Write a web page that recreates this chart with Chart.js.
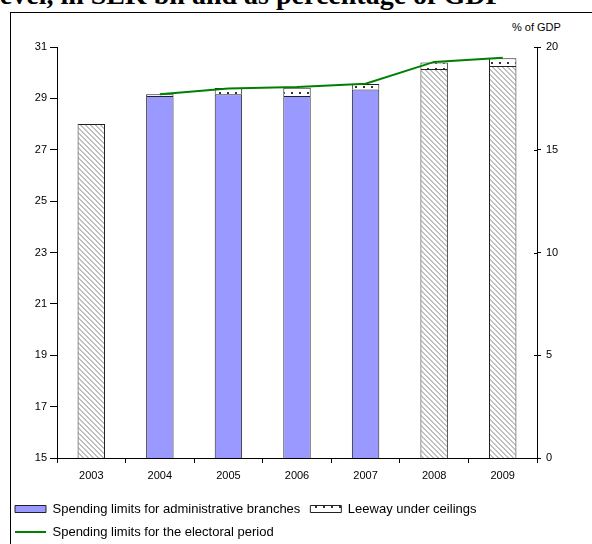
<!DOCTYPE html>
<html><head><meta charset="utf-8">
<script src="https://cdn.jsdelivr.net/npm/chart.js@4"></script>
<style>
html,body{margin:0;padding:0;background:#fff;overflow:hidden;width:592px;height:544px;}
#wrap{position:relative;width:592px;height:544px;overflow:hidden;}
#frame{position:absolute;left:10px;top:12px;width:600px;height:600px;border-left:1px solid #000;border-top:1px solid #000;}
#title{position:absolute;left:-8px;top:-19.5px;font:bold 28px/28px "Liberation Serif";white-space:nowrap;color:#000;}
#gdp{position:absolute;left:512px;top:20px;font:11px/14px "Liberation Sans";color:#000;}
canvas{position:absolute;left:0;top:0;}
</style></head><body>
<div id="wrap">
<div id="title">level, in SEK bn and as percentage of GDP</div>
<div id="frame"></div>
<div id="gdp">% of GDP</div>
<canvas id="c" width="592" height="560"></canvas>
</div>
<script>
const years = ['2003','2004','2005','2006','2007','2008','2009'];
const adminLimits = [28.0, 29.09, 29.16, 29.09, 29.35, 30.14, 30.26];
const leeway = [null, 0.07, 0.24, 0.32, 0.21, 0.26, 0.30];
const electoralLimits = [null, 29.16, 29.38, 29.44, 29.57, 30.42, 30.58];
const isForecast = [true, false, false, false, false, true, true];
const leftAxisTicks = [15, 17, 19, 21, 23, 25, 27, 29, 31];
const rightAxisTicks = [0, 5, 10, 15, 20];
const seriesNames = ['Spending limits for administrative branches', 'Leeway under ceilings', 'Spending limits for the electoral period'];

function hatchPattern(){
  const n = 5, c = document.createElement('canvas'); c.width = n; c.height = n;
  const g = c.getContext('2d'); g.fillStyle = '#fff'; g.fillRect(0,0,n,n);
  g.fillStyle = '#c0c0c0';
  for (let y=0;y<n;y++) for (let x=0;x<n;x++){ const d=((x-y)%n+n)%n; if (d<2) g.fillRect(x,y,1,1); }
  return g.createPattern(c,'repeat');
}
function dotPattern(){
  const c = document.createElement('canvas'); c.width = 8; c.height = 6;
  const g = c.getContext('2d'); g.fillStyle = '#fff'; g.fillRect(0,0,8,6);
  g.fillStyle = '#333'; g.fillRect(3,2,2,2);
  return g.createPattern(c,'repeat');
}
const BLUE = '#9999ff';
const hatch = hatchPattern();
const dots = dotPattern();

const innerTicks = {
  id:'innerTicks',
  afterDraw(chart){
    const s = chart.scales.y1, ctx = chart.ctx;
    ctx.save(); ctx.strokeStyle='#000'; ctx.lineWidth=1;
    s.ticks.forEach(t=>{
      const y = Math.round(s.getPixelForValue(t.value))+0.5;
      ctx.beginPath(); ctx.moveTo(s.left-3, y); ctx.lineTo(s.left, y); ctx.stroke();
    });
    ctx.restore();
  }
};

new Chart(document.getElementById('c'), {
  data: {
    labels: years,
    datasets: [
      { type:'bar', label: seriesNames[0], data: adminLimits, stack:'s', yAxisID:'y', order:1,
        backgroundColor: isForecast.map(f => f ? hatch : BLUE), borderColor:'#222', borderWidth:1 },
      { type:'bar', label: seriesNames[1], data: leeway, stack:'s', yAxisID:'y', order:1,
        backgroundColor: dots, borderColor:'#222', borderWidth:1 },
      { type:'line', label: seriesNames[2], data: electoralLimits, yAxisID:'y', order:0,
        borderColor:'#008000', backgroundColor:'#008000', borderWidth:2, pointRadius:0, tension:0, spanGaps:false }
    ]
  },
  options: {
    responsive:false, animation:false,
    layout:{ padding:{ left:5, right:0, top:47, bottom:11.5 } },
    datasets:{ bar:{ categoryPercentage:1.0, barPercentage:0.4 } },
    scales: {
      x: {
        stacked:true,
        grid:{ offset:true, drawOnChartArea:false, drawTicks:true, tickLength:5, color:'#000' },
        border:{ display:true, color:'#000', width:1 },
        ticks:{ color:'#000', font:{ family:'Liberation Sans', size:11 }, padding:6, maxRotation:0 },
        afterFit(s){ s.height = 34.5; }
      },
      y: {
        stacked:true, position:'left',
        min: leftAxisTicks[0], max: leftAxisTicks[leftAxisTicks.length-1],
        afterBuildTicks(s){ s.ticks = leftAxisTicks.map(v=>({value:v})); },
        grid:{ drawOnChartArea:false, drawTicks:true, tickLength:7, color:'#000' },
        border:{ display:true, color:'#000', width:1 },
        ticks:{ color:'#000', font:{ family:'Liberation Sans', size:11 }, padding:3 },
        afterFit(s){ s.width = 52; }
      },
      y1: {
        position:'right',
        min: rightAxisTicks[0], max: rightAxisTicks[rightAxisTicks.length-1],
        afterBuildTicks(s){ s.ticks = rightAxisTicks.map(v=>({value:v})); },
        grid:{ drawOnChartArea:false, drawTicks:true, tickLength:4, color:'#000' },
        border:{ display:true, color:'#000', width:1 },
        ticks:{ color:'#000', font:{ family:'Liberation Sans', size:11 }, padding:5 },
        afterFit(s){ s.width = 55; }
      }
    },
    plugins: {
      tooltip:{ enabled:false },
      legend: {
        position:'bottom', align:'start',
        labels: {
          usePointStyle:true, pointStyleWidth:31, boxWidth:31, boxHeight:7, padding:10,
          color:'#000', font:{ family:'Liberation Sans', size:13 },
          generateLabels(chart){
            return chart.data.datasets.map((ds,i)=>{
              const base = { text: ds.label, datasetIndex:i, hidden:false, fontColor:'#000', rotation:0 };
              if (i===0) return Object.assign(base,{ fillStyle:BLUE, strokeStyle:'#222', lineWidth:1, pointStyle:'rect' });
              if (i===1) return Object.assign(base,{ fillStyle:dots, strokeStyle:'#222', lineWidth:1, pointStyle:'rect' });
              return Object.assign(base,{ fillStyle:'#008000', strokeStyle:'#008000', lineWidth:2, pointStyle:'line' });
            });
          }
        }
      }
    }
  },
  plugins:[innerTicks]
});
</script>
</body></html>
